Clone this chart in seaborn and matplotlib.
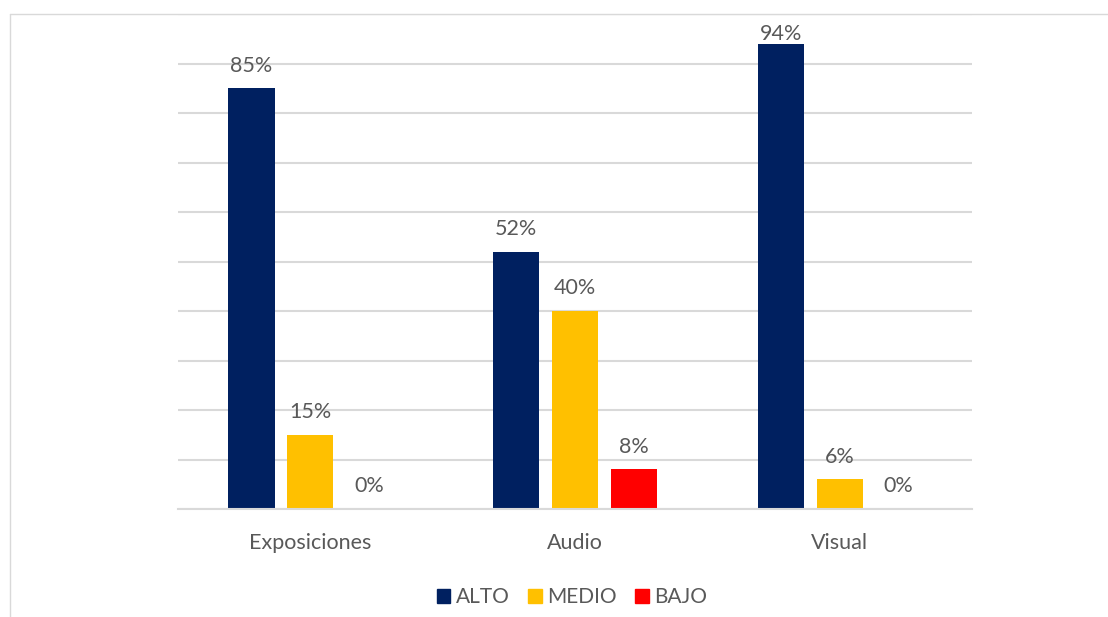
import pandas as pd
import matplotlib.pyplot as plt
import seaborn as sns
from matplotlib.lines import Line2D

sns.set_theme(style="white")
plt.rcParams["font.family"] = ["Lato", "DejaVu Sans"]

categorias = ["Exposiciones", "Audio", "Visual"]
niveles = ["ALTO", "MEDIO", "BAJO"]
alto = [0.85, 0.52, 0.94]
medio = [0.15, 0.40, 0.06]
bajo = [0.00, 0.08, 0.00]
colores = ["#002060", "#FFC000", "#FF0000"]

df = pd.DataFrame({
    "categoria": categorias * 3,
    "nivel": [n for n in niveles for _ in categorias],
    "valor": alto + medio + bajo,
})

TEXT = "#595959"
GRID = "#D9D9D9"

fig = plt.figure(figsize=(11.08, 6.17), dpi=100)
ax = fig.add_axes([178 / 1108, 1 - 509 / 617, (972 - 178) / 1108, (509 - 14) / 617])

sns.barplot(data=df, x="categoria", y="valor", hue="nivel", hue_order=niveles,
            palette=colores, width=0.667, gap=0.215, ax=ax, legend=False,
            saturation=1, edgecolor="none")

ax.set_ylim(0, 1)
ax.set_xlim(-0.5, 2.5)
ax.set_yticks([i / 10 for i in range(11)])
ax.yaxis.grid(True, color=GRID, linewidth=1.5)
ax.set_axisbelow(True)
ax.set_yticklabels([])
ax.tick_params(axis="y", length=0)
ax.tick_params(axis="x", length=0, pad=17, labelsize=15.5, labelcolor=TEXT)
ax.set_xlabel("")
ax.set_ylabel("")
for s in ["top", "right", "left"]:
    ax.spines[s].set_visible(False)
ax.spines["bottom"].set_color(GRID)
ax.spines["bottom"].set_linewidth(1.5)

for cont in ax.containers:
    anns = ax.bar_label(cont, labels=[f"{b.get_height():.0%}" for b in cont],
                        padding=9, fontsize=15.5, color=TEXT)
    for ann, b in zip(anns, cont):
        # la etiqueta de la barra más alta queda pegada a la barra
        if b.get_height() > 0.9:
            ann.xyann = (0, 0)

handles = [plt.Rectangle((0, 0), 1, 1, color=c) for c in colores]
fig.legend(handles, niveles, loc="center", bbox_to_anchor=(572 / 1108, 1 - 597 / 617),
           ncol=3, frameon=False, fontsize=15, labelcolor=TEXT,
           handlelength=0.65, handleheight=0.65, handletextpad=0.25, columnspacing=0.9)

# borde del gráfico
fig.add_artist(Line2D([10 / 1108, 10 / 1108], [0, 1 - 14 / 617], color="#D9D9D9", linewidth=1,
                      transform=fig.transFigure))
fig.add_artist(Line2D([10 / 1108, 1], [1 - 14 / 617, 1 - 14 / 617], color="#D9D9D9", linewidth=1,
                      transform=fig.transFigure))

fig.savefig("out.png", dpi=100)
